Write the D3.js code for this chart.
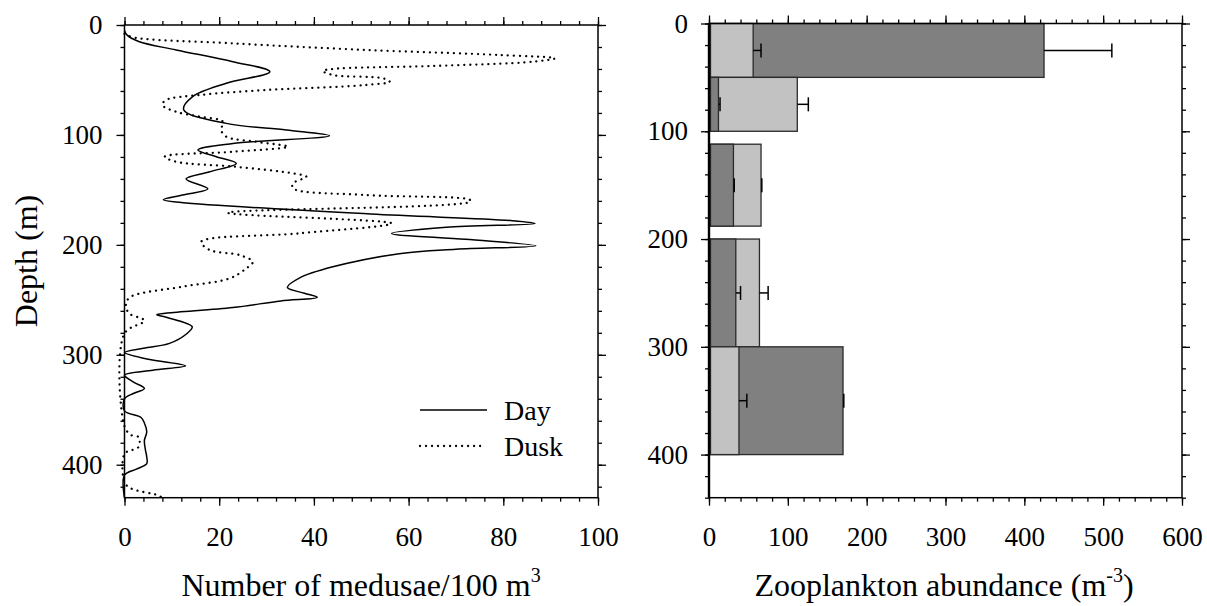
<!DOCTYPE html>
<html>
<head>
<meta charset="utf-8">
<script src="https://d3js.org/d3.v7.min.js"></script>
<style>
  body { margin: 0; background: #fff; }
  svg { display: block; }
  .tick line { stroke: #000; stroke-width: 1.3; }
</style>
</head>
<body>
<div id="chart"></div>
<script>
// --- data ---
// medusae profiles: depth (m) and number per 100 m3
var dayDepth = [5, 9, 15, 22.7, 33.4, 42.5, 53, 65.2, 77, 89.5, 95.5, 100.7, 107.7, 113.7, 119.8, 125.9,
  133.5, 140, 149, 154.7, 159, 161.5, 172, 178, 180.5, 184, 189.6, 195, 200.8, 204, 208, 220, 230, 238.7,
  244, 247.8, 251, 257, 262, 263.5, 266, 274.5, 280.6, 289.6, 294, 298, 304, 310, 314, 318.5, 325, 330.6,
  335, 340, 351, 357, 362, 370, 378, 386, 393, 399, 404, 409.5, 430];
var dayVals = [0, 0.5, 3, 10.9, 22.9, 30.7, 21.5, 14.4, 12.5, 21.5, 34.2, 43.3, 22.9, 15.5, 19.4, 23.6,
  18, 13, 17.6, 12.3, 8.2, 12, 52, 82, 86.7, 68, 56.4, 72, 86.9, 70, 58, 44, 37, 34.4,
  38, 40.7, 33, 22.9, 9, 6.8, 9, 14.3, 13.2, 9.5, 4, 0, 5, 12.9, 6, 0, 2, 4.2,
  2, 0, 0, 3.5, 4.2, 4.7, 4.2, 4.4, 4.7, 4.7, 2.5, 0, 0];

var duskDepth = [8, 11.2, 16.7, 22.7, 27.3, 30.3, 33.4, 37.3, 40, 41.8, 45.5, 48.5, 51.6, 54.6, 59.1, 63.7,
  68.2, 72.8, 78.9, 83.4, 88, 95.5, 101.6, 106.2, 110.7, 115.3, 119.8, 124.4, 128.9, 135, 138, 144, 148.6,
  154.7, 159.2, 160.8, 170.8, 180.5, 189.5, 197.2, 204.7, 209.3, 215.4, 221.4, 230.5, 238, 247.8, 255,
  262.4, 269, 280.6, 365, 373, 375, 383.7, 386.7, 390, 416, 421.6, 427.7, 430];
var duskVals = [0, 1.8, 22.9, 51, 79.3, 90.9, 86.3, 65, 44, 41.9, 44, 54.6, 56, 51, 30, 15.9,
  8.8, 8, 10.9, 15.9, 20.8, 20.4, 21.5, 27.8, 34.5, 22.9, 8.5, 10.9, 23.3, 35.6, 38.4, 35.6, 35.6,
  51, 73, 73, 21.8, 56.4, 37, 16.2, 18, 24.3, 27.1, 25.7, 22.2, 12.3, 1.1, 0.3,
  1, 4.2, 0, 0, 1.4, 3, 3, 1.6, 0, 0, 1.4, 7, 8];

// zooplankton layers: top / bottom depth, two series with error bar ends
var layerTop = [0, 50, 112, 200, 300];
var layerBottom = [50, 100, 188, 300, 400];
var lightVals = [56, 112, 66, 64, 38];
var lightErr = [66, 126, 67, 75, 48];
var darkVals = [425, 12, 31, 34, 170];
var darkErr = [511, 14, 32, 40, 171];

var leftXTicks = [0, 20, 40, 60, 80, 100];
var rightXTicks = [0, 100, 200, 300, 400, 500, 600];
var depthTicks = [0, 100, 200, 300, 400];

var width = 1207, height = 606;
var serif = "'Liberation Serif', 'Times New Roman', Times, serif";

var svg = d3.select("#chart").append("svg")
    .attr("width", width)
    .attr("height", height)
    .style("font-family", serif);

svg.append("rect").attr("width", width).attr("height", height).attr("fill", "#fff");

// d3 axes put a 10px sans-serif on their group, swap it for the serif
function serifLabels(sel) {
  sel.attr("font-family", serif).attr("font-size", 27);
  sel.selectAll("text").style("font-family", serif).style("font-size", "27px").attr("fill", "#000");
}

// draws ticks on all four sides of a panel, major + minor, all pointing out
function frame(g, x, y, xMajor, xMinor, yMajor, yMinor, xPad, yPad) {
  var x0 = x.range()[0], x1 = x.range()[1], y0 = y.range()[0], y1 = y.range()[1];

  g.append("g").attr("transform", "translate(0," + y1 + ")")
    .call(d3.axisBottom(x).tickValues(xMinor).tickSize(4).tickSizeOuter(0).tickFormat(""));
  g.append("g").attr("transform", "translate(0," + y1 + ")")
    .call(d3.axisBottom(x).tickValues(xMajor).tickSize(8).tickSizeOuter(0).tickPadding(xPad).tickFormat(d3.format("d")))
    .call(serifLabels);
  g.append("g").attr("transform", "translate(0," + y0 + ")")
    .call(d3.axisTop(x).tickValues(xMinor).tickSize(4).tickSizeOuter(0).tickFormat(""));
  g.append("g").attr("transform", "translate(0," + y0 + ")")
    .call(d3.axisTop(x).tickValues(xMajor).tickSize(8).tickSizeOuter(0).tickFormat(""));

  g.append("g").attr("transform", "translate(" + x0 + ",0)")
    .call(d3.axisLeft(y).tickValues(yMinor).tickSize(4).tickSizeOuter(0).tickFormat(""));
  g.append("g").attr("transform", "translate(" + x0 + ",0)")
    .call(d3.axisLeft(y).tickValues(yMajor).tickSize(8).tickSizeOuter(0).tickPadding(yPad).tickFormat(d3.format("d")))
    .call(serifLabels);
  g.append("g").attr("transform", "translate(" + x1 + ",0)")
    .call(d3.axisRight(y).tickValues(yMinor).tickSize(4).tickSizeOuter(0).tickFormat(""));
  g.append("g").attr("transform", "translate(" + x1 + ",0)")
    .call(d3.axisRight(y).tickValues(yMajor).tickSize(8).tickSizeOuter(0).tickFormat(""));

  g.selectAll(".domain").remove();

  g.append("rect")
    .attr("x", x0).attr("y", y0)
    .attr("width", x1 - x0).attr("height", y1 - y0)
    .attr("fill", "none").attr("stroke", "#000").attr("stroke-width", 1.5);
}

// ---------- left panel: medusae ----------
var xL = d3.scaleLinear().domain([0, 100]).range([124.5, 598]);
var yL = d3.scaleLinear().domain([0, 430]).range([25, 497.7]);

var left = svg.append("g");

var line = d3.line()
    .x(function(d) { return xL(d[1]); })
    .y(function(d) { return yL(d[0]); })
    .curve(d3.curveCatmullRom.alpha(0.5));

left.append("path")
    .attr("d", line(d3.zip(duskDepth, duskVals)))
    .attr("fill", "none")
    .attr("stroke", "#000")
    .attr("stroke-width", 2.3)
    .attr("stroke-linecap", "round")
    .attr("stroke-dasharray", "0.01 6");

left.append("path")
    .attr("d", line(d3.zip(dayDepth, dayVals)))
    .attr("fill", "none")
    .attr("stroke", "#000")
    .attr("stroke-width", 1.5);

frame(left, xL, yL, leftXTicks, d3.range(0, 101, 4), depthTicks, d3.range(0, 431, 20), 21, 14);

// legend
var legend = left.append("g").style("font-size", "28px");
legend.append("line").attr("x1", 420).attr("x2", 487).attr("y1", 410).attr("y2", 410)
    .attr("stroke", "#000").attr("stroke-width", 1.5);
legend.append("line").attr("x1", 420).attr("x2", 486).attr("y1", 446).attr("y2", 446)
    .attr("stroke", "#000").attr("stroke-width", 2.3)
    .attr("stroke-linecap", "round").attr("stroke-dasharray", "0.01 6");
legend.append("text").attr("x", 504).attr("y", 420).text("Day");
legend.append("text").attr("x", 504).attr("y", 456).text("Dusk");

// ---------- right panel: zooplankton ----------
var xR = d3.scaleLinear().domain([0, 600]).range([709, 1182]);
var yR = d3.scaleLinear().domain([0, 440]).range([23.5, 497.7]);

var right = svg.append("g");

// per layer, the bigger bar behind, the smaller in front
var bars = [];
layerTop.forEach(function(t, i) {
  var pair = [
    { top: t, bottom: layerBottom[i], v: lightVals[i], e: lightErr[i], fill: "#c2c2c2" },
    { top: t, bottom: layerBottom[i], v: darkVals[i], e: darkErr[i], fill: "#808080" }
  ];
  pair.sort(function(a, b) { return b.v - a.v; });
  bars = bars.concat(pair);
});

right.selectAll("rect.bar")
  .data(bars)
  .enter().append("rect")
    .attr("class", "bar")
    .attr("x", xR(0) + 1.5)
    .attr("y", function(d) { return yR(d.top); })
    .attr("width", function(d) { return xR(d.v) - xR(0) - 1.5; })
    .attr("height", function(d) { return yR(d.bottom) - yR(d.top); })
    .attr("fill", function(d) { return d.fill; })
    .attr("stroke", "#2a2a2a")
    .attr("stroke-width", 1.3);

var err = right.selectAll("g.err")
  .data(bars)
  .enter().append("g").attr("class", "err");

err.append("line")
    .attr("x1", function(d) { return xR(d.v); })
    .attr("x2", function(d) { return xR(d.e); })
    .attr("y1", function(d) { return yR((d.top + d.bottom) / 2); })
    .attr("y2", function(d) { return yR((d.top + d.bottom) / 2); })
    .attr("stroke", "#000").attr("stroke-width", 1.5);
err.append("line")
    .attr("x1", function(d) { return xR(d.e); })
    .attr("x2", function(d) { return xR(d.e); })
    .attr("y1", function(d) { return yR((d.top + d.bottom) / 2) - 7; })
    .attr("y2", function(d) { return yR((d.top + d.bottom) / 2) + 7; })
    .attr("stroke", "#000").attr("stroke-width", 1.5);

frame(right, xR, yR, rightXTicks, d3.range(0, 601, 20), depthTicks, d3.range(0, 441, 20), 21, 13);

right.append("line")
    .attr("x1", xR(0)).attr("x2", xR(0))
    .attr("y1", yR(0)).attr("y2", yR(440))
    .attr("stroke", "#000").attr("stroke-width", 2.4);

// ---------- axis titles ----------
svg.append("text")
    .attr("transform", "translate(37,261) rotate(-90)")
    .attr("text-anchor", "middle")
    .style("font-size", "32px")
    .text("Depth (m)");

var t1 = svg.append("text")
    .attr("x", 361).attr("y", 596)
    .attr("text-anchor", "middle")
    .style("font-size", "32px");
t1.append("tspan").text("Number of medusae/100 m");
t1.append("tspan").attr("dy", -14).style("font-size", "20px").text("3");

var t2 = svg.append("text")
    .attr("x", 944).attr("y", 596)
    .attr("text-anchor", "middle")
    .style("font-size", "32px");
t2.append("tspan").text("Zooplankton abundance (m");
t2.append("tspan").attr("dy", -14).style("font-size", "20px").text("-3");
t2.append("tspan").attr("dy", 14).text(")");
</script>
</body>
</html>
